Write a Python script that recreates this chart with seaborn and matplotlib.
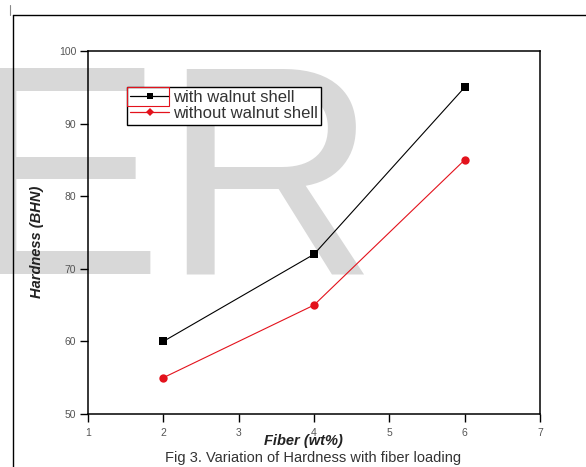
import matplotlib
matplotlib.use("Agg")
import matplotlib.pyplot as plt
import seaborn as sns
import pandas as pd
from matplotlib.lines import Line2D
from matplotlib.patches import Rectangle

fiber = [2, 4, 6]
with_shell = [60, 72, 95]
without_shell = [55, 65, 85]
series_names = ["with walnut shell", "without walnut shell"]
x_ticks = [1, 2, 3, 4, 5, 6, 7]
y_ticks = [50, 60, 70, 80, 90, 100]

df = pd.DataFrame({
    "Fiber": fiber * 2,
    "Hardness": with_shell + without_shell,
    "Series": [series_names[0]] * len(fiber) + [series_names[1]] * len(fiber),
})

sns.set_style("ticks")
plt.rcParams["font.family"] = ["Liberation Sans", "DejaVu Sans"]

W, H = 586, 467
fig = plt.figure(figsize=(W/100, H/100), dpi=100)
ax = fig.add_axes([88/W, 1-414/H, 452/W, 363/H])
ax.set_facecolor("none")

# watermark
fig.text(-37/W, 1-273/H, "ER", fontsize=215, color="#d8d8d8",
         ha="left", va="baseline", zorder=-5)

sns.lineplot(data=df, x="Fiber", y="Hardness", hue="Series", style="Series",
             palette=["black", "#e3121c"], markers=["s", "o"], dashes=False,
             markersize=6, linewidth=0.8, markeredgewidth=0, ax=ax, legend=False)

ax.set_xlim(1, 7)
ax.set_ylim(50, 100)
ax.set_xticks(x_ticks)
ax.set_yticks(y_ticks)
for s in ax.spines.values():
    s.set_visible(True)
    s.set_linewidth(1.1)
    s.set_color("black")
ax.tick_params(direction="out", length=6, width=1, color="black",
               labelsize=7.5, labelcolor="#555555")
ax.tick_params(axis="x", pad=4)
ax.tick_params(axis="y", pad=2.5)
ax.set_xlabel("Fiber (wt%)", fontsize=10.5, fontweight="bold", style="italic",
              color="#222222")
ax.set_ylabel("Hardness (BHN)", fontsize=10.5, fontweight="bold", style="italic",
              color="#222222")
ax.xaxis.set_label_coords((303-88)/452, -(441-414)/363)
ax.xaxis.label.set_va("center")
ax.yaxis.set_label_coords(-(88-37)/452, (414-242)/363)
ax.yaxis.label.set_va("center")

handles = [
    Line2D([], [], color="black", marker="s", markersize=5, linewidth=0.9, markeredgewidth=0),
    Line2D([], [], color="#e3121c", marker="D", markersize=4, linewidth=0.9, markeredgewidth=0),
]
leg = ax.legend(handles, series_names, loc="upper left",
                bbox_to_anchor=((127-88)/452, (414-87)/363), borderaxespad=0,
                fancybox=False, frameon=True, edgecolor="black", fontsize=12,
                handlelength=2.3, handletextpad=0.25, borderpad=0.2,
                labelspacing=0.05, framealpha=1)
leg.get_frame().set_linewidth(1.0)
for t in leg.get_texts():
    t.set_color("#333333")

# selection rectangle around first legend handle
fig.add_artist(Rectangle((127/W, 1-106/H), 42/W, 19/H, fill=False,
                         edgecolor="#e3121c", linewidth=0.8, transform=fig.transFigure))

# outer frame
fig.add_artist(Line2D([13/W, 13/W], [0, 1-15/H], color="black", linewidth=1.0))
fig.add_artist(Line2D([13/W, 1], [1-15/H, 1-15/H], color="black", linewidth=1.0))
fig.add_artist(Line2D([10/W, 10/W], [1-15/H, 1-5/H], color="#888888", linewidth=0.8))

fig.text(313/W, 1-458/H, "Fig 3. Variation of Hardness with fiber loading",
         fontsize=10.5, color="#333333", ha="center", va="center")

fig.savefig("out.png", dpi=100)
